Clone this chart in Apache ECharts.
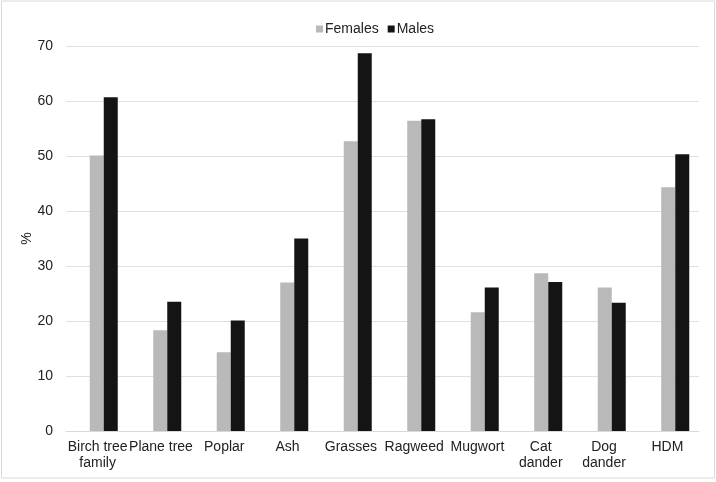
<!DOCTYPE html>
<html>
<head>
<meta charset="utf-8">
<script src="https://cdn.jsdelivr.net/npm/echarts@6/dist/echarts.min.js"></script>
<style>html,body{margin:0;padding:0;background:#fff;}#c{width:716px;height:482px;}</style>
</head>
<body>
<div id="c"></div>
<script>
var categories = ['Birch tree\nfamily', 'Plane tree', 'Poplar', 'Ash', 'Grasses', 'Ragweed', 'Mugwort', 'Cat\ndander', 'Dog\ndander', 'HDM'];
var females = [50.1, 18.3, 14.3, 27.0, 52.7, 56.4, 21.6, 28.7, 26.1, 44.3];
var males = [60.7, 23.5, 20.1, 35.0, 68.7, 56.7, 26.1, 27.1, 23.3, 50.3];
var yTicks = {min: 0, max: 70, interval: 10};

var font = 'Liberation Sans, Arial, sans-serif';
var chart = echarts.init(document.getElementById('c'), null, {renderer: 'canvas'});
chart.setOption({
  backgroundColor: '#fff',
  animation: false,
  textStyle: {fontFamily: font},
  graphic: [{
    type: 'rect', shape: {x: 1.5, y: 1, width: 713, height: 477},
    style: {fill: 'none', stroke: '#d9d9d9', lineWidth: 1}, silent: true
  }],
  legend: {
    left: 311, top: 17,
    itemWidth: 7, itemHeight: 7, itemGap: 9,
    icon: 'rect',
    textStyle: {fontSize: 14, color: '#222', fontFamily: font, padding: [0, 0, 0, -3]},
    data: ['Females', 'Males']
  },
  grid: [
    {left: 66, right: 17, top: 46, bottom: 51},
    {left: 72, right: 9, top: 46, bottom: 51}
  ],
  xAxis: [{
    gridIndex: 0, type: 'category', data: categories,
    axisLine: {show: true, lineStyle: {color: '#d9d9d9', width: 1}},
    axisTick: {show: false},
    axisLabel: {color: '#222', fontSize: 14, margin: 8, lineHeight: 16, fontFamily: font, interval: 0}
  }, {
    gridIndex: 1, type: 'category', data: categories,
    axisLine: {show: false}, axisTick: {show: false}, axisLabel: {show: false}
  }],
  yAxis: [{
    gridIndex: 0, type: 'value', min: yTicks.min, max: yTicks.max, interval: yTicks.interval,
    name: '%', nameLocation: 'middle', nameGap: 32, nameRotate: 90, nameMoveOverlap: false,
    nameTextStyle: {fontSize: 14, color: '#222', fontFamily: font},
    axisLine: {show: false}, axisTick: {show: false},
    axisLabel: {color: '#222', fontSize: 14, margin: 13, fontFamily: font},
    splitLine: {lineStyle: {color: '#e0e0e0', width: 1}}
  }, {
    gridIndex: 1, type: 'value', min: yTicks.min, max: yTicks.max, interval: yTicks.interval,
    axisLine: {show: false}, axisTick: {show: false}, axisLabel: {show: false}, splitLine: {show: false}
  }],
  series: [{
    name: 'Females', type: 'bar', xAxisIndex: 1, yAxisIndex: 1, data: females,
    barWidth: 14, barGap: '0%', itemStyle: {color: '#b9b9b9'}
  }, {
    name: 'Males', type: 'bar', xAxisIndex: 1, yAxisIndex: 1, data: males,
    barWidth: 14, barGap: '0%', itemStyle: {color: '#141414'}
  }]
});
</script>
</body>
</html>
